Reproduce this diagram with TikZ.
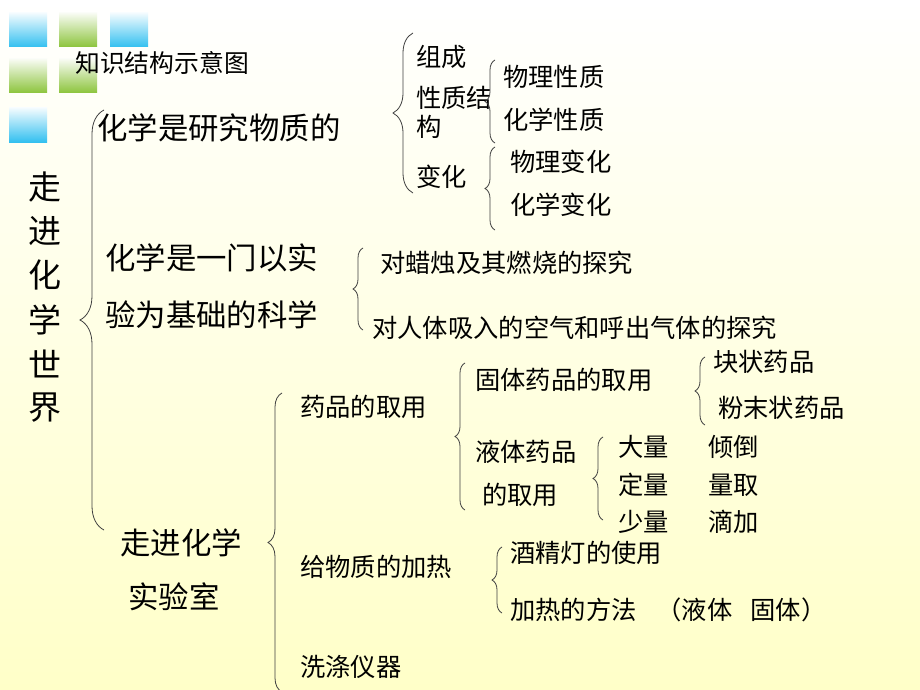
\documentclass[tikz,border=0pt]{standalone}
\usepackage{fontspec}
\newfontfamily\cjk{Noto Sans CJK SC}
\usetikzlibrary{decorations.pathreplacing}
\usepackage{xcolor}

\definecolor{skyblue}{RGB}{51,192,240}
\definecolor{leafgreen}{RGB}{140,196,60}
\definecolor{paleyellow}{RGB}{255,255,200}

\tikzset{
  big/.style={font=\cjk\fontsize{30.4}{36}\selectfont, anchor=west, inner sep=0pt},
  small/.style={font=\cjk\fontsize{25.3}{30}\selectfont, anchor=west, inner sep=0pt},
  curly/.style={decorate, decoration={brace, amplitude=#1}, draw=black!75, line width=0.8pt},
  curly/.default=10
}

\begin{document}
\begin{tikzpicture}[x=1pt, y=-1pt]

      % Background
      \shade[top color=white, bottom color=paleyellow] (0,0) rectangle (920,690);
      \useasboundingbox (0,0) rectangle (920,690);

      % Squares
      \foreach \x/\y/\c in {9/13/skyblue, 59/13/leafgreen, 110/13/skyblue, 9/59/leafgreen, 59/59/leafgreen, 9/108/skyblue}
      {
        \shade[top color=\c!6, bottom color=\c] (\x,\y) rectangle ++(38,34);
      }

      % Title
      \node[small, font=\cjk\fontsize{24.8}{28}\selectfont] (overview) at (75,63) {知识结构示意图};
      \foreach \c [count=\i] in {走,进,化,学,世,界}
      {
        \node[font=\cjk\fontsize{33}{40}\selectfont, inner sep=0pt] (world\i) at (45,187+44.2*\i-44.2) {\c};
      }

      % Study of matter
      \node[big] (study) at (97,128) {化学是研究物质的};
      \node[small] (compose) at (416,57) {组成};
      \node[small] (prop1) at (416,98) {性质结};
      \node[small] (prop2) at (416,127) {构};
      \node[small] (change) at (416,177) {变化};
      \node[small] (physprop) at (503,77) {物理性质};
      \node[small] (chemprop) at (503,120) {化学性质};
      \node[small] (physchange) at (510,162) {物理变化};
      \node[small] (chemchange) at (510,205) {化学变化};

      % Experimental science
      \node[big] (exp1) at (105,258) {化学是一门以实};
      \node[big] (exp2) at (105,315) {验为基础的科学};
      \node[small] (candle) at (380,263) {对蜡烛及其燃烧的探究};
      \node[small] (breath) at (372,328) {对人体吸入的空气和呼出气体的探究};

      % Laboratory
      \node[big] (lab1) at (120,543) {走进化学};
      \node[big] (lab2) at (128,597) {实验室};
      \node[small] (take) at (300,407) {药品的取用};
      \node[small] (heat) at (300,567) {给物质的加热};
      \node[small] (wash) at (300,667) {洗涤仪器};
      \node[small] (solid) at (475,380) {固体药品的取用};
      \node[small] (liquid1) at (475,452) {液体药品};
      \node[small] (liquid2) at (482,495) {的取用};
      \node[small] (lump) at (713,362) {块状药品};
      \node[small] (powder) at (718,408) {粉末状药品};
      \foreach \a/\b/\y [count=\i] in {大量/倾倒/447, 定量/量取/485, 少量/滴加/522}
      {
        \node[small] (amount\i) at (618,\y) {\a};
        \node[small] (pour\i) at (708,\y) {\b};
      }
      \node[small] (lamp) at (510,553) {酒精灯的使用};
      \node[small] (method) at (510,610) {加热的方法\hspace{20pt}（液体\hspace{18pt}固体）};

      % Braces
      \draw[curly=24] (104,530) -- (104,110);
      \draw[curly=20] (413,193) -- (413,33);
      \draw[curly] (495,143) -- (495,60);
      \draw[curly] (495,230) -- (495,147);
      \draw[curly] (363,330) -- (363,248);
      \draw[curly=14] (282,692) -- (282,393);
      \draw[curly] (465,510) -- (465,363);
      \draw[curly] (603,520) -- (603,437);
      \draw[curly] (705,425) -- (705,357);
      \draw[curly] (502,613) -- (502,547);

\end{tikzpicture}
\end{document}
